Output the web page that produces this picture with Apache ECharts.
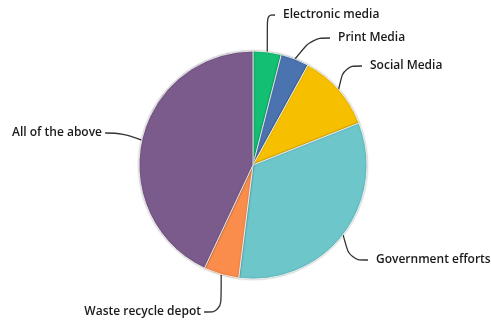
<!DOCTYPE html>
<html>
<head>
<meta charset="utf-8">
<script src="https://cdn.jsdelivr.net/npm/echarts@6/dist/echarts.min.js"></script>
<style>
  html, body { margin: 0; padding: 0; background: #fff; }
  #main { width: 491px; height: 324px; }
</style>
</head>
<body>
<div id="main"></div>
<script>
// 数据
var categories = ['Electronic media', 'Print Media', 'Social Media', 'Government efforts', 'Waste recycle depot', 'All of the above'];
var values = [4, 4, 11, 33, 5, 43];
var colors = ['#13bf72', '#4a73b0', '#f6c000', '#6cc6ca', '#fa8c4c', '#7b5b8b'];

// 标签位置 (text anchor: x, center y, side)
var labelPos = {
    'Electronic media': [283, 15, 'left'],
    'Print Media': [338, 38, 'left'],
    'Social Media': [370, 66, 'left'],
    'Government efforts': [376, 260, 'left'],
    'Waste recycle depot': [201, 312, 'right'],
    'All of the above': [102, 133, 'right']
};
var gap = 8;

var myChart = echarts.init(document.getElementById('main'));

var pieData = categories.map(function (name, i) {
    return {
        name: name,
        value: values[i],
        itemStyle: { color: colors[i] }
    };
});

myChart.setOption({
    animation: false,
    series: [
        {
            type: 'pie',
            center: [253, 165],
            radius: 114,
            startAngle: 90,
            clockwise: true,
            data: pieData,
            itemStyle: {
                borderColor: '#ffffff',
                borderWidth: 0.8,
                shadowBlur: 2,
                shadowColor: 'rgba(0,0,0,0.35)'
            },
            label: {
                show: true,
                color: '#1a1a1a',
                fontFamily: 'Open Sans',
                fontWeight: 600,
                fontSize: 12,
                overflow: 'none',
                formatter: function (p) {
                    return labelPos[p.name][2] === 'left' ? '{g| }' + p.name : p.name + '{g| }';
                },
                rich: {
                    g: { width: gap, height: 10 }
                }
            },
            labelLine: {
                show: true,
                smooth: 0.4,
                length: 12,
                length2: 18,
                lineStyle: { color: '#333', width: 1.3 }
            },
            labelLayout: function (params) {
                var p = labelPos[categories[params.dataIndex]];
                var w = params.labelRect.width;
                return {
                    x: p[2] === 'left' ? p[0] - gap : p[0] + gap - w,
                    y: p[1] - params.labelRect.height / 2,
                    align: 'left',
                    verticalAlign: 'top'
                };
            }
        }
    ]
});
</script>
</body>
</html>
